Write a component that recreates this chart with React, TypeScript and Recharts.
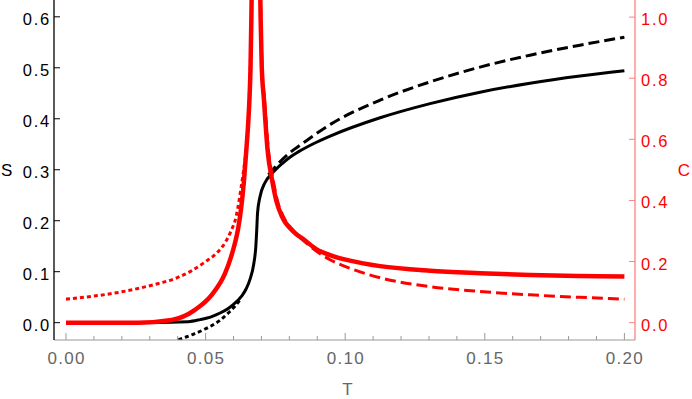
import React from 'react';
import { LineChart, Line, XAxis, YAxis } from 'recharts';

// ---- data (T on x; S on left axis, C on right axis) ----
const sSolid = [
  { t: 0, v: 0 }, { t: 0.0247, v: 0 }, { t: 0.0438, v: 0.002 }, { t: 0.048, v: 0.006 },
  { t: 0.0522, v: 0.012 }, { t: 0.0552, v: 0.019 }, { t: 0.0581, v: 0.028 }, { t: 0.06, v: 0.036 },
  { t: 0.0629, v: 0.052 }, { t: 0.0645, v: 0.066 }, { t: 0.0659, v: 0.085 }, { t: 0.0673, v: 0.117 },
  { t: 0.068, v: 0.15 }, { t: 0.0683, v: 0.18 }, { t: 0.0686, v: 0.215 }, { t: 0.0694, v: 0.245 },
  { t: 0.0712, v: 0.274 }, { t: 0.0737, v: 0.292 }, { t: 0.0773, v: 0.3115 }, { t: 0.0802, v: 0.3245 },
  { t: 0.0832, v: 0.335 }, { t: 0.0886, v: 0.351 }, { t: 0.0946, v: 0.366 }, { t: 0.1125, v: 0.402 },
  { t: 0.1304, v: 0.4298 }, { t: 0.1483, v: 0.4522 }, { t: 0.1662, v: 0.4697 }, { t: 0.1841, v: 0.4837 },
  { t: 0.2, v: 0.494 },
];
const sDashed = [
  { t: 0.0725, v: 0.29 }, { t: 0.0778, v: 0.322 }, { t: 0.0856, v: 0.355 }, { t: 0.095, v: 0.39 },
  { t: 0.1125, v: 0.4366 }, { t: 0.1304, v: 0.4724 }, { t: 0.1483, v: 0.5014 }, { t: 0.1662, v: 0.5247 },
  { t: 0.1841, v: 0.5444 }, { t: 0.2, v: 0.56 },
];
const sDotted = [
  { t: 0.038, v: -0.04 }, { t: 0.0402, v: -0.034 }, { t: 0.045, v: -0.024 }, { t: 0.05, v: -0.012 },
  { t: 0.055, v: 0.004 }, { t: 0.0587, v: 0.022 }, { t: 0.0605, v: 0.032 }, { t: 0.0625, v: 0.046 },
];
const cSolid = [
  { t: 0, v: 0 }, { t: 0.0258, v: 0 }, { t: 0.0379, v: 0.009 }, { t: 0.0462, v: 0.042 },
  { t: 0.0522, v: 0.091 }, { t: 0.057, v: 0.162 }, { t: 0.059, v: 0.212 }, { t: 0.0605, v: 0.26 },
  { t: 0.0617, v: 0.31 }, { t: 0.0628, v: 0.38 }, { t: 0.0637, v: 0.46 }, { t: 0.0645, v: 0.555 },
  { t: 0.0653, v: 0.66 }, { t: 0.0657, v: 0.73 }, { t: 0.0661, v: 0.84 }, { t: 0.0664, v: 1.0 },
  { t: 0.0668, v: 1.3 }, { t: 0.068, v: 1.7 }, { t: 0.0692, v: 1.3 }, { t: 0.0697, v: 1.0 },
  { t: 0.0701, v: 0.84 }, { t: 0.0709, v: 0.73 }, { t: 0.0722, v: 0.565 }, { t: 0.0738, v: 0.467 },
  { t: 0.0753, v: 0.4 }, { t: 0.0772, v: 0.35 }, { t: 0.0812, v: 0.3 }, { t: 0.0855, v: 0.27 },
  { t: 0.0898, v: 0.24 }, { t: 0.0946, v: 0.221 }, { t: 0.1017, v: 0.203 }, { t: 0.1125, v: 0.185 },
  { t: 0.1304, v: 0.17 }, { t: 0.1483, v: 0.162 }, { t: 0.1662, v: 0.156 }, { t: 0.1841, v: 0.153 },
  { t: 0.2, v: 0.151 },
];
const cDashed = [
  { t: 0.0693, v: 1.3 }, { t: 0.0698, v: 1.0 }, { t: 0.0702, v: 0.84 }, { t: 0.0711, v: 0.73 },
  { t: 0.0725, v: 0.565 }, { t: 0.0742, v: 0.467 }, { t: 0.0757, v: 0.4 }, { t: 0.0777, v: 0.35 },
  { t: 0.0816, v: 0.3 }, { t: 0.0855, v: 0.265 }, { t: 0.0895, v: 0.235 }, { t: 0.0946, v: 0.206 },
  { t: 0.1017, v: 0.178 }, { t: 0.1125, v: 0.147 }, { t: 0.1304, v: 0.118 }, { t: 0.1483, v: 0.102 },
  { t: 0.1662, v: 0.091 }, { t: 0.1841, v: 0.083 }, { t: 0.2, v: 0.077 },
];
const cDotted = [
  { t: 0, v: 0.077 }, { t: 0.01, v: 0.087 }, { t: 0.02, v: 0.101 }, { t: 0.03, v: 0.121 },
  { t: 0.04, v: 0.148 }, { t: 0.045, v: 0.17 }, { t: 0.05, v: 0.2 }, { t: 0.054, v: 0.228 },
  { t: 0.057, v: 0.262 }, { t: 0.059, v: 0.298 }, { t: 0.061, v: 0.35 }, { t: 0.062, v: 0.4 },
  { t: 0.063, v: 0.46 }, { t: 0.064, v: 0.525 }, { t: 0.0647, v: 0.58 }, { t: 0.0655, v: 0.7 },
  { t: 0.066, v: 0.84 }, { t: 0.0664, v: 1.0 }, { t: 0.067, v: 1.4 },
];

const xTicks = [0, 0.01, 0.02, 0.03, 0.04, 0.05, 0.06, 0.07, 0.08, 0.09, 0.1, 0.11, 0.12, 0.13, 0.14, 0.15, 0.16, 0.17, 0.18, 0.19, 0.2];
const sTicks = [0, 0.1, 0.2, 0.3, 0.4, 0.5, 0.6];
const cTicks = [0, 0.2, 0.4, 0.6, 0.8, 1.0];

const FONT = '"Liberation Sans", Arial, sans-serif';
const RED = '#ff0000';
const RED_AXIS = '#ff8080';

const XTick = (props: any) => {
  const { x, y, payload } = props;
  const v = payload.value as number;
  const major = Math.round(v * 1000) % 50 === 0;
  return (
    <g>
      <line x1={x} x2={x} y1={y} y2={y - (major ? 7 : 4)} stroke="#999" strokeWidth={1} />
      {major && (
        <text x={x + 0.6} y={y + 24} textAnchor="middle" fill="#666" fontSize={17} letterSpacing={1.3} fontFamily={FONT}>
          {v.toFixed(2)}
        </text>
      )}
    </g>
  );
};

const STick = (props: any) => {
  const { x, y, payload } = props;
  return (
    <g>
      <line x1={x} x2={x + 6} y1={y} y2={y} stroke="#000" strokeWidth={1} />
      <text x={x - 3} y={y + 8} textAnchor="end" fill="#000" fontSize={16.5} letterSpacing={1.8} fontFamily={FONT}>
        {(payload.value as number).toFixed(1)}
      </text>
    </g>
  );
};

const CTick = (props: any) => {
  const { x, y, payload } = props;
  return (
    <g>
      <line x1={x} x2={x - 6} y1={y} y2={y} stroke={RED_AXIS} strokeWidth={1} />
      <text x={x + 6} y={y + 8} textAnchor="start" fill={RED} fontSize={16.5} letterSpacing={1.8} fontFamily={FONT}>
        {(payload.value as number).toFixed(1)}
      </text>
    </g>
  );
};

export default function App() {
  return (
    <div style={{ position: 'absolute', left: 0, top: 0, background: '#fff' }}>
      <LineChart width={692} height={399} margin={{ top: 0, right: 0, bottom: 0, left: 0 }}>
        <XAxis
          type="number"
          dataKey="t"
          domain={[-0.0043, 0.2038]}
          allowDataOverflow
          ticks={xTicks}
          interval={0}
          tick={<XTick />}
          tickLine={false}
          tickSize={0}
          tickMargin={0}
          height={59}
          axisLine={{ stroke: '#999', strokeWidth: 1 }}
          label={{ value: 'T', position: 'insideBottom', offset: 4, dx: 3, fill: '#666', fontSize: 17, fontFamily: FONT }}
        />
        <YAxis
          yAxisId="S"
          orientation="left"
          type="number"
          domain={[-0.034, 0.633]}
          allowDataOverflow
          ticks={sTicks}
          interval={0}
          tick={<STick />}
          tickLine={false}
          tickSize={0}
          tickMargin={0}
          width={54}
          axisLine={{ stroke: '#000', strokeWidth: 1.3 }}
          label={{ value: 'S', position: 'insideLeft', offset: 1, fill: '#000', fontSize: 17, fontFamily: FONT }}
        />
        <YAxis
          yAxisId="C"
          orientation="right"
          type="number"
          domain={[-0.0567, 1.056]}
          allowDataOverflow
          ticks={cTicks}
          interval={0}
          tick={<CTick />}
          tickLine={false}
          tickSize={0}
          tickMargin={0}
          width={57}
          axisLine={{ stroke: RED_AXIS, strokeWidth: 1.3 }}
          label={{ value: 'C', position: 'insideRight', offset: 2, fill: RED, fontSize: 17, fontFamily: FONT }}
        />
        <Line yAxisId="S" data={sDotted} dataKey="v" type="monotone" stroke="#000" strokeWidth={3} strokeDasharray="4 3" dot={false} activeDot={false} isAnimationActive={false} />
        <Line yAxisId="S" data={sDashed} dataKey="v" type="monotone" stroke="#000" strokeWidth={3} strokeDasharray="11 5" dot={false} activeDot={false} isAnimationActive={false} />
        <Line yAxisId="S" data={sSolid} dataKey="v" type="monotone" stroke="#000" strokeWidth={3} dot={false} activeDot={false} isAnimationActive={false} />
        <Line yAxisId="C" data={cDotted} dataKey="v" type="monotone" stroke={RED} strokeWidth={3} strokeDasharray="4 3" dot={false} activeDot={false} isAnimationActive={false} />
        <Line yAxisId="C" data={cDashed} dataKey="v" type="monotone" stroke={RED} strokeWidth={3} strokeDasharray="11 5" dot={false} activeDot={false} isAnimationActive={false} />
        <Line yAxisId="C" data={cSolid} dataKey="v" type="monotone" stroke={RED} strokeWidth={4.5} dot={false} activeDot={false} isAnimationActive={false} />
      </LineChart>
    </div>
  );
}
